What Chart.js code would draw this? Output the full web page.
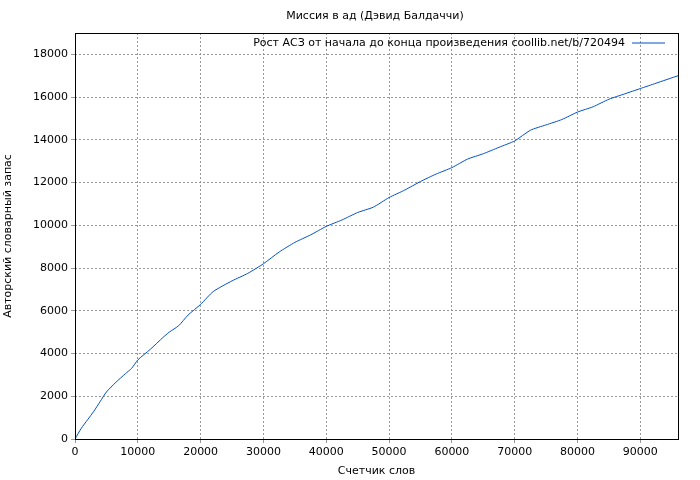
<!DOCTYPE html>
<html><head><meta charset="utf-8">
<script src="https://cdn.jsdelivr.net/npm/chart.js@4"></script>
<style>body{margin:0;background:#fff}#wrap{width:700px;height:480px}</style>
</head><body><div id="wrap"><canvas id="c"></canvas></div>
<script>
const words = [0, 1000, 2000, 3000, 4000, 5000, 6500, 8000, 9000, 10000, 12000, 14000, 15000, 16500, 18000, 20000, 22000, 25000, 27500, 30000, 32500, 35000, 37500, 40000, 42500, 45000, 47500, 50000, 52500, 55000, 57500, 60000, 62500, 65000, 67500, 70000, 72500, 75000, 77500, 80000, 82500, 85000, 87500, 90000, 92500, 96000];
const vocab = [0, 500, 900, 1300, 1750, 2200, 2650, 3050, 3300, 3700, 4200, 4750, 5000, 5300, 5800, 6300, 6900, 7400, 7750, 8200, 8750, 9200, 9550, 9950, 10250, 10600, 10850, 11300, 11650, 12050, 12400, 12700, 13100, 13350, 13650, 13950, 14450, 14700, 14950, 15300, 15550, 15900, 16150, 16400, 16650, 17000];
const xTicks = [0, 10000, 20000, 30000, 40000, 50000, 60000, 70000, 80000, 90000];
const yTicks = [0, 2000, 4000, 6000, 8000, 10000, 12000, 14000, 16000, 18000];
const title = 'Миссия в ад (Дэвид Балдаччи)';
const legendText = 'Рост АСЗ от начала до конца произведения coollib.net/b/720494';

const font = '11px "DejaVu Sans"';
const overlay = {
  id: 'overlay',
  afterDraw(chart) {
    const ctx = chart.ctx, a = chart.chartArea;
    ctx.save();
    ctx.font = font; ctx.fillStyle = '#000';
    ctx.textAlign = 'center'; ctx.textBaseline = 'middle';
    ctx.fillText(title, 375, 16);
    ctx.textAlign = 'right';
    ctx.fillText(legendText, a.right - 53, 43);
    ctx.strokeStyle = '#0050c8'; ctx.lineWidth = 1;
    ctx.beginPath(); ctx.moveTo(a.right - 46, 43); ctx.lineTo(a.right - 13, 43); ctx.stroke();
    ctx.strokeStyle = '#000';
    ctx.strokeRect(a.left + 0.5, a.top + 0.5, a.right - a.left, a.bottom - a.top);
    ctx.restore();
  }
};
const tickFont = { family: 'DejaVu Sans', size: 11 };

new Chart(document.getElementById('c'), {
  type: 'line',
  data: { datasets: [{ data: words.map((w, i) => ({x: w, y: vocab[i]})), borderColor: '#0050c8', borderWidth: 1, pointRadius: 0, tension: 0.2 }] },
  options: {
    responsive: true, maintainAspectRatio: false, animation: false,
    layout: { padding: { top: 33, right: 22 } },
    plugins: { legend: { display: false }, tooltip: { enabled: false } },
    scales: {
      x: { type: 'linear', min: 0, max: 96000,
        afterBuildTicks: s => { s.ticks = xTicks.map(v => ({value: v})); },
        ticks: { color: '#000', font: tickFont, maxRotation: 0, callback: v => String(v) },
        grid: { color: '#999', tickLength: 4 }, border: { dash: [2, 2], display: false },
        title: { display: true, text: 'Счетчик слов', color: '#000', font: tickFont, padding: 2 },
        afterFit: s => { s.height = 41; } },
      y: { min: 0, max: 19000,
        afterBuildTicks: s => { s.ticks = yTicks.map(v => ({value: v})); },
        ticks: { color: '#000', font: tickFont, callback: v => String(v) },
        grid: { color: '#999', tickLength: 4 }, border: { dash: [2, 2], display: false },
        title: { display: true, text: 'Авторский словарный запас', color: '#000', font: tickFont, padding: 2 },
        afterFit: s => { s.width = 75; } }
    }
  },
  plugins: [overlay]
});
</script></body></html>
